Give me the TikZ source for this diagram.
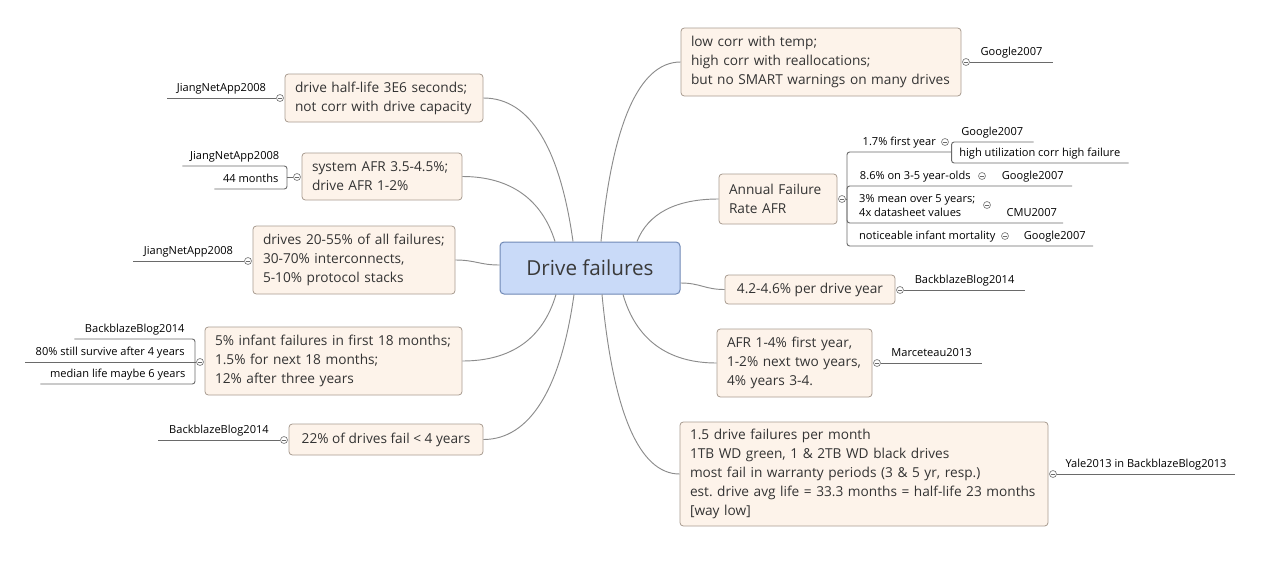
\documentclass[tikz,border=0pt]{standalone}
\usepackage{fontspec}
\setmainfont{Open Sans}
\usetikzlibrary{positioning,calc}
\definecolor{ink}{HTML}{333333}
\definecolor{rootink}{HTML}{3A3A3A}
\definecolor{peach}{HTML}{FDF3EA}
\definecolor{peachline}{HTML}{A99C91}
\definecolor{sky}{HTML}{C9DAF8}
\definecolor{skyline}{HTML}{6F88B5}
\definecolor{branchgray}{HTML}{8C8C8C}
\definecolor{taggray}{HTML}{6A6A6A}
\tikzset{
  root/.style={draw=skyline, fill=sky, rounded corners=3pt, line width=0.75pt,
    minimum width=135pt, minimum height=39pt, inner sep=0pt,
    font=\fontsize{15.5}{18}\selectfont, text=rootink},
  topic/.style={draw=peachline, fill=peach, rounded corners=2.5pt, line width=0.6pt,
    align=left, inner xsep=7.5pt, inner ysep=0pt,
    font=\fontsize{10.25}{14.25}\selectfont, text=ink},
  hub/.style={circle, draw=taggray, fill=white, line width=0.45pt, inner sep=0pt,
    minimum size=5.2pt,
    path picture={\draw[taggray, line width=0.45pt]
      ([xshift=1.1pt]path picture bounding box.west) --
      ([xshift=-1.1pt]path picture bounding box.east);}},
  tag/.style={font=\fontsize{8.3}{10.5}\selectfont, text=black, align=left,
    inner xsep=0pt, inner ysep=2.5pt, text depth=2pt},
  branch/.style={draw=branchgray, line width=0.7pt},
  tagline/.style={draw=taggray, line width=0.7pt, rounded corners=2pt},
}
\frenchspacing
\begin{document}
\begin{tikzpicture}[x=0.75pt,y=-0.75pt]
  \fill[white] (0,0) rectangle (1269,564);
  \useasboundingbox (0,0) rectangle (1269,564);

  \node[root] (drive) at (590,268) {Drive failures};

  % left side
  \node[topic, text width=133.5pt, minimum height=36pt] (halflife) at (384,98)
    {drive half-life 3E6 seconds;\\not corr with drive capacity};
  \node[topic, text width=105pt, minimum height=35.25pt] (sysafr) at (382,176.5)
    {system AFR 3.5-4.5\%;\\drive AFR 1-2\%};
  \node[topic, text width=136.5pt, minimum height=51pt] (share) at (354,260)
    {drives 20-55\% of all failures;\\30-70\% interconnects,\\5-10\% protocol stacks};
  \node[topic, text width=177.75pt, minimum height=51pt] (infant) at (333.5,361)
    {5\% infant failures in first 18 months;\\1.5\% for next 18 months;\\12\% after three years};
  \node[topic, minimum width=145.5pt, minimum height=23.25pt] (fouryr) at (386,439.5)
    {22\% of drives fail < 4 years};

  % right side
  \node[topic, text width=195pt, minimum height=51pt] (temp) at (821,62)
    {low corr with temp;\\high corr with reallocations;\\but no SMART warnings on many drives};
  \node[topic, text width=73.5pt, minimum height=37.5pt] (afr) at (778,199)
    {Annual Failure\\Rate AFR};
  \node[topic, minimum width=127.5pt, minimum height=21.75pt] (peryear) at (810,289.5)
    {4.2-4.6\% per drive year};
  \node[topic, text width=101.25pt, minimum height=51pt] (byage) at (794.5,363)
    {AFR 1-4\% first year,\\1-2\% next two years,\\4\% years 3-4.};
  \node[topic, text width=261pt, minimum height=78pt] (yale) at (864,474)
    {1.5 drive failures per month\\1TB WD green, 1 \& 2TB WD black drives\\most fail in warranty periods (3 \& 5 yr, resp.)\\est. drive avg life = 33.3 months = half-life 23 months\\{}[way low]};

  % branches
  \draw[branch] ($(drive.north)+(-17,0)$) .. controls +(-13,-93) and +(47,0) .. (halflife.east);
  \draw[branch] ($(drive.north)+(-35,0)$) .. controls +(-13,-42) and +(48,0) .. (sysafr.east);
  \draw[branch] ($(drive.west)+(0,-3)$) .. controls +(-20,0) and +(20,0) .. (share.east);
  \draw[branch] ($(drive.south)+(-34,0)$) .. controls +(-13,44) and +(49,0) .. (infant.east);
  \draw[branch] ($(drive.south)+(-16,0)$) .. controls +(-13,93) and +(47,0) .. (fouryr.east);
  \draw[branch] ($(drive.north)+(11,0)$) .. controls +(11,-116) and +(-42,0) .. (temp.west);
  \draw[branch] ($(drive.north)+(47,0)$) .. controls +(11,-28) and +(-43,0) .. (afr.west);
  \draw[branch] ($(drive.east)+(0,15)$) .. controls +(20,0) and +(-20,0) .. (peryear.west);
  \draw[branch] ($(drive.south)+(33,0)$) .. controls +(13,45) and +(-49,0) .. (byage.west);
  \draw[branch] ($(drive.south)+(12,0)$) .. controls +(11,116) and +(-41,0) .. (yale.west);

  % sources, left
  \node[hub] (hhalflife) at (280,98) {};
  \node[tag, anchor=south east, minimum width=81.75pt] (thalflife) at (hhalflife.west) {JiangNetApp2008};
  \draw[tagline] (hhalflife) -- (thalflife.south west);

  \node[hub] (hsysafr) at (297,177) {};
  \coordinate (jsysafr) at (287,177);
  \node[tag, anchor=south east, minimum width=78pt] (tsysafra) at (287,166) {JiangNetApp2008};
  \node[tag, anchor=south east, minimum width=54pt] (tsysafrb) at (287,189) {44 months};
  \draw[tagline] (hsysafr) -- (jsysafr);
  \draw[tagline] (jsysafr) |- (tsysafra.south west);
  \draw[tagline] (jsysafr) |- (tsysafrb.south west);

  \node[hub] (hshare) at (248,261) {};
  \node[tag, anchor=south east, minimum width=83.25pt] (tshare) at (hshare.west) {JiangNetApp2008};
  \draw[tagline] (hshare) -- (tshare.south west);

  \node[hub] (hinfant) at (200,362) {};
  \coordinate (jinfant) at (195,362);
  \node[tag, anchor=south east, minimum width=90pt] (tinfanta) at (195,339) {BackblazeBlog2014};
  \node[tag, anchor=south east, minimum width=126.75pt] (tinfantb) at (195,362) {80\% still survive after 4 years};
  \node[tag, anchor=south east, minimum width=115.5pt] (tinfantc) at (195,384) {median life maybe 6 years};
  \draw[tagline] (hinfant) -- (tinfantb.south west);
  \draw[tagline] (jinfant) |- (tinfanta.south west);
  \draw[tagline] (jinfant) |- (tinfantc.south west);

  \node[hub] (hfouryr) at (284,440) {};
  \node[tag, anchor=south east, minimum width=91.5pt] (tfouryr) at (hfouryr.west) {BackblazeBlog2014};
  \draw[tagline] (hfouryr) -- (tfouryr.south west);

  % sources, right
  \node[hub] (htemp) at (966,62) {};
  \node[tag, anchor=south west, minimum width=62.25pt] (ttemp) at (htemp.east) {Google2007};
  \draw[tagline] (htemp) -- (ttemp.south east);

  \node[hub] (hperyear) at (900,290) {};
  \node[tag, anchor=south west, minimum width=90.75pt] (tperyear) at (hperyear.east) {BackblazeBlog2014};
  \draw[tagline] (hperyear) -- (tperyear.south east);

  \node[hub] (hbyage) at (877,363) {};
  \node[tag, anchor=south west, minimum width=75.75pt] (tbyage) at (hbyage.east) {Marceteau2013};
  \draw[tagline] (hbyage) -- (tbyage.south east);

  \node[hub] (hyale) at (1053,474) {};
  \node[tag, anchor=south west, minimum width=133.5pt] (tyale) at (hyale.east) {Yale2013 in BackblazeBlog2013};
  \draw[tagline] (hyale) -- (tyale.south east);

  % AFR details
  \node[hub] (hafr) at (842,199) {};
  \coordinate (jafr) at (847,199);
  \node[tag, anchor=south west, minimum width=78pt] (safra) at (847,152) {1.7\% first year};
  \node[hub] (hsafra) at (945,142) {};
  \node[tag, anchor=south west, minimum width=61.5pt] (gafra) at (951,142) {Google2007};
  \node[tag, anchor=south west, minimum width=132.75pt] (gafrb) at (951,163) {high utilization corr high failure};
  \node[tag, anchor=south west, minimum width=102pt] (safrb) at (847,186) {8.6\% on 3-5 year-olds};
  \node[hub] (hsafrb) at (982,176) {};
  \node[tag, anchor=south east, minimum width=58.5pt] (gafrc) at (1072,186) {Google2007};
  \node[tag, anchor=south west, minimum width=105pt] (safrc) at (847,223) {3\% mean over 5 years;\\4x datasheet values};
  \node[hub] (hsafrc) at (987,205) {};
  \node[tag, anchor=south east, minimum width=46.5pt] (gafrd) at (1063,223) {CMU2007};
  \node[tag, anchor=south west, minimum width=120pt] (safrd) at (847,246) {noticeable infant mortality};
  \node[hub] (hsafrd) at (1005,236) {};
  \node[tag, anchor=south east, minimum width=57pt] (gafre) at (1093,246) {Google2007};
  \draw[tagline] (hafr) -- (jafr);
  \draw[tagline] (jafr) |- (safra.south east);
  \draw[tagline] (safra.south east) |- (gafra.south east);
  \draw[tagline] (safra.south east) |- (gafrb.south east);
  \draw[tagline] (jafr) |- (gafrc.south east);
  \draw[tagline] (jafr) |- (gafrd.south east);
  \draw[tagline] (jafr) |- (gafre.south east);
\end{tikzpicture}
\end{document}
